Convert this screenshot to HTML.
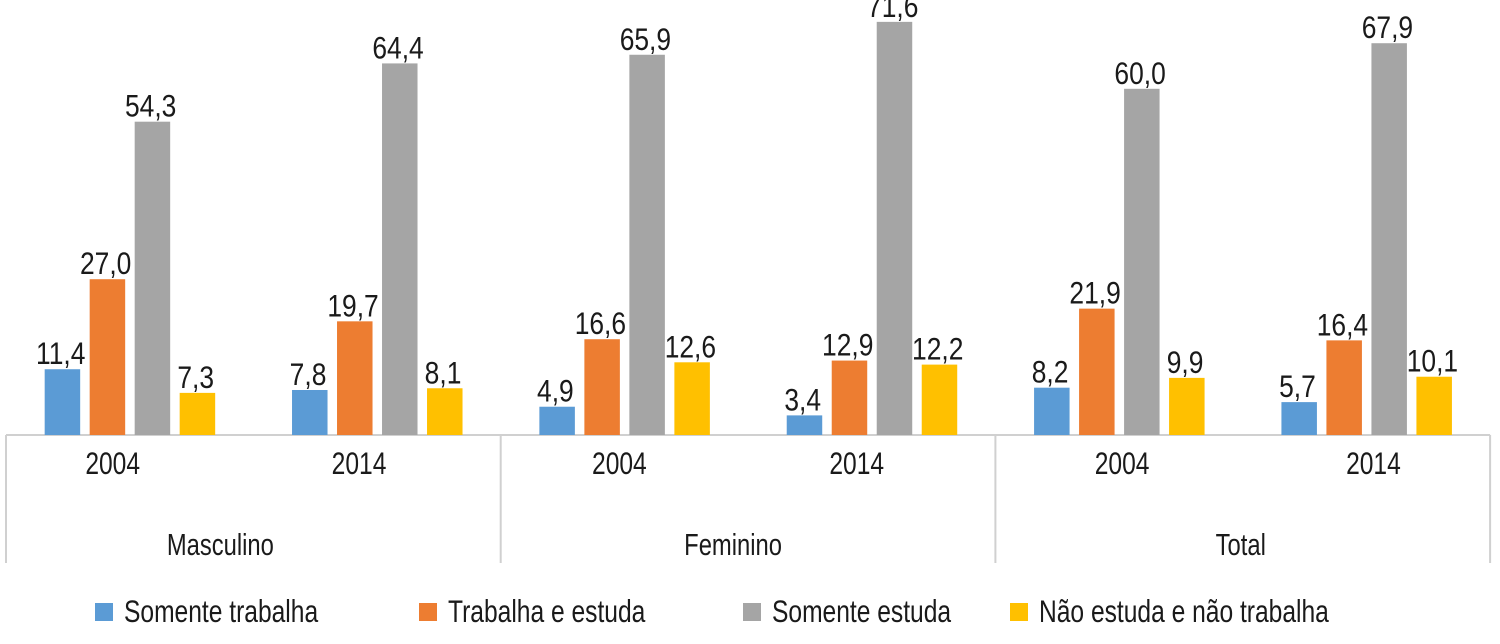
<!DOCTYPE html>
<html><head><meta charset="utf-8"><style>
body{margin:0;background:#fff;}
svg text{font-family:"Liberation Sans Narrow","Liberation Sans",sans-serif;fill:#1a1a1a;}
</style></head><body>
<svg width="1500" height="639" xmlns="http://www.w3.org/2000/svg" id="chart"></svg>
<script>
const groups=["Masculino","Feminino","Total"];
const years=["2004","2014"];
const seriesNames=["Somente trabalha","Trabalha e estuda","Somente estuda","Não estuda e não trabalha"];
const somenteTrabalha=[11.4,7.8,4.9,3.4,8.2,5.7];
const trabalhaEstuda=[27.0,19.7,16.6,12.9,21.9,16.4];
const somenteEstuda=[54.3,64.4,65.9,71.6,60.0,67.9];
const naoEstuda=[7.3,8.1,12.6,12.2,9.9,10.1];
const colors=["#5b9bd5","#ed7d31","#a5a5a5","#ffc000"];
const series=[somenteTrabalha,trabalhaEstuda,somenteEstuda,naoEstuda];
const svg=document.getElementById('chart');
const NS="http://www.w3.org/2000/svg";
const x0=6,gW=494.7,base=435,k=5.77;
const yearShift=[-17,-18,-5,-15,3,7], groupShift=[-33,-15,-2];
const y=v=>base-v*k;
function mk(t,a){const e=document.createElementNS(NS,t);for(const q in a)e.setAttribute(q,a[q]);svg.appendChild(e);return e;}
function txt(x,yy,size,anchor,s,sx){const e=mk('text',{x:0,y:0,'font-size':size,'text-anchor':anchor,transform:`translate(${x},${yy}) scale(${sx},1.05)`});e.textContent=s;return e;}
const ax=mk('line',{x1:x0,x2:x0+gW*3,y1:base,y2:base,stroke:'#d0d0d0','stroke-width':2});


for(let g=0;g<=3;g++){const l=mk('line',{x1:x0+g*gW,x2:x0+g*gW,y1:base,y2:563,stroke:'#d0d0d0','stroke-width':2});

}
groups.forEach((gn,g)=>{
 const t=txt(x0+g*gW+gW/2+groupShift[g],555,29,'middle',gn,0.82);
 
 
 years.forEach((yr,j)=>{
  const i=g*2+j;const cx=x0+g*gW+j*gW/2+gW/4;
  const yt=txt(cx+yearShift[i],474,30,'middle',yr,0.82);
  
  
  series.forEach((s,si)=>{
   const bx=cx-85+si*45;const v=s[i];
   const r=mk('rect',{x:bx,y:y(v),width:35.5,height:v*k,fill:colors[si]});
   
   
   const lt=txt(bx+16,y(v)-5,30,'middle',v.toFixed(1).replace('.',','),0.88);
   
   
  });
 });
});
const lx=[95,419,743,1010];
seriesNames.forEach((n,si)=>{
 const r=mk('rect',{x:lx[si],y:603,width:18,height:18,fill:colors[si]});
 
 
 const t=txt(lx[si]+29,622,30,'start',n,0.82);
 
 
});
</script>
</body></html>
